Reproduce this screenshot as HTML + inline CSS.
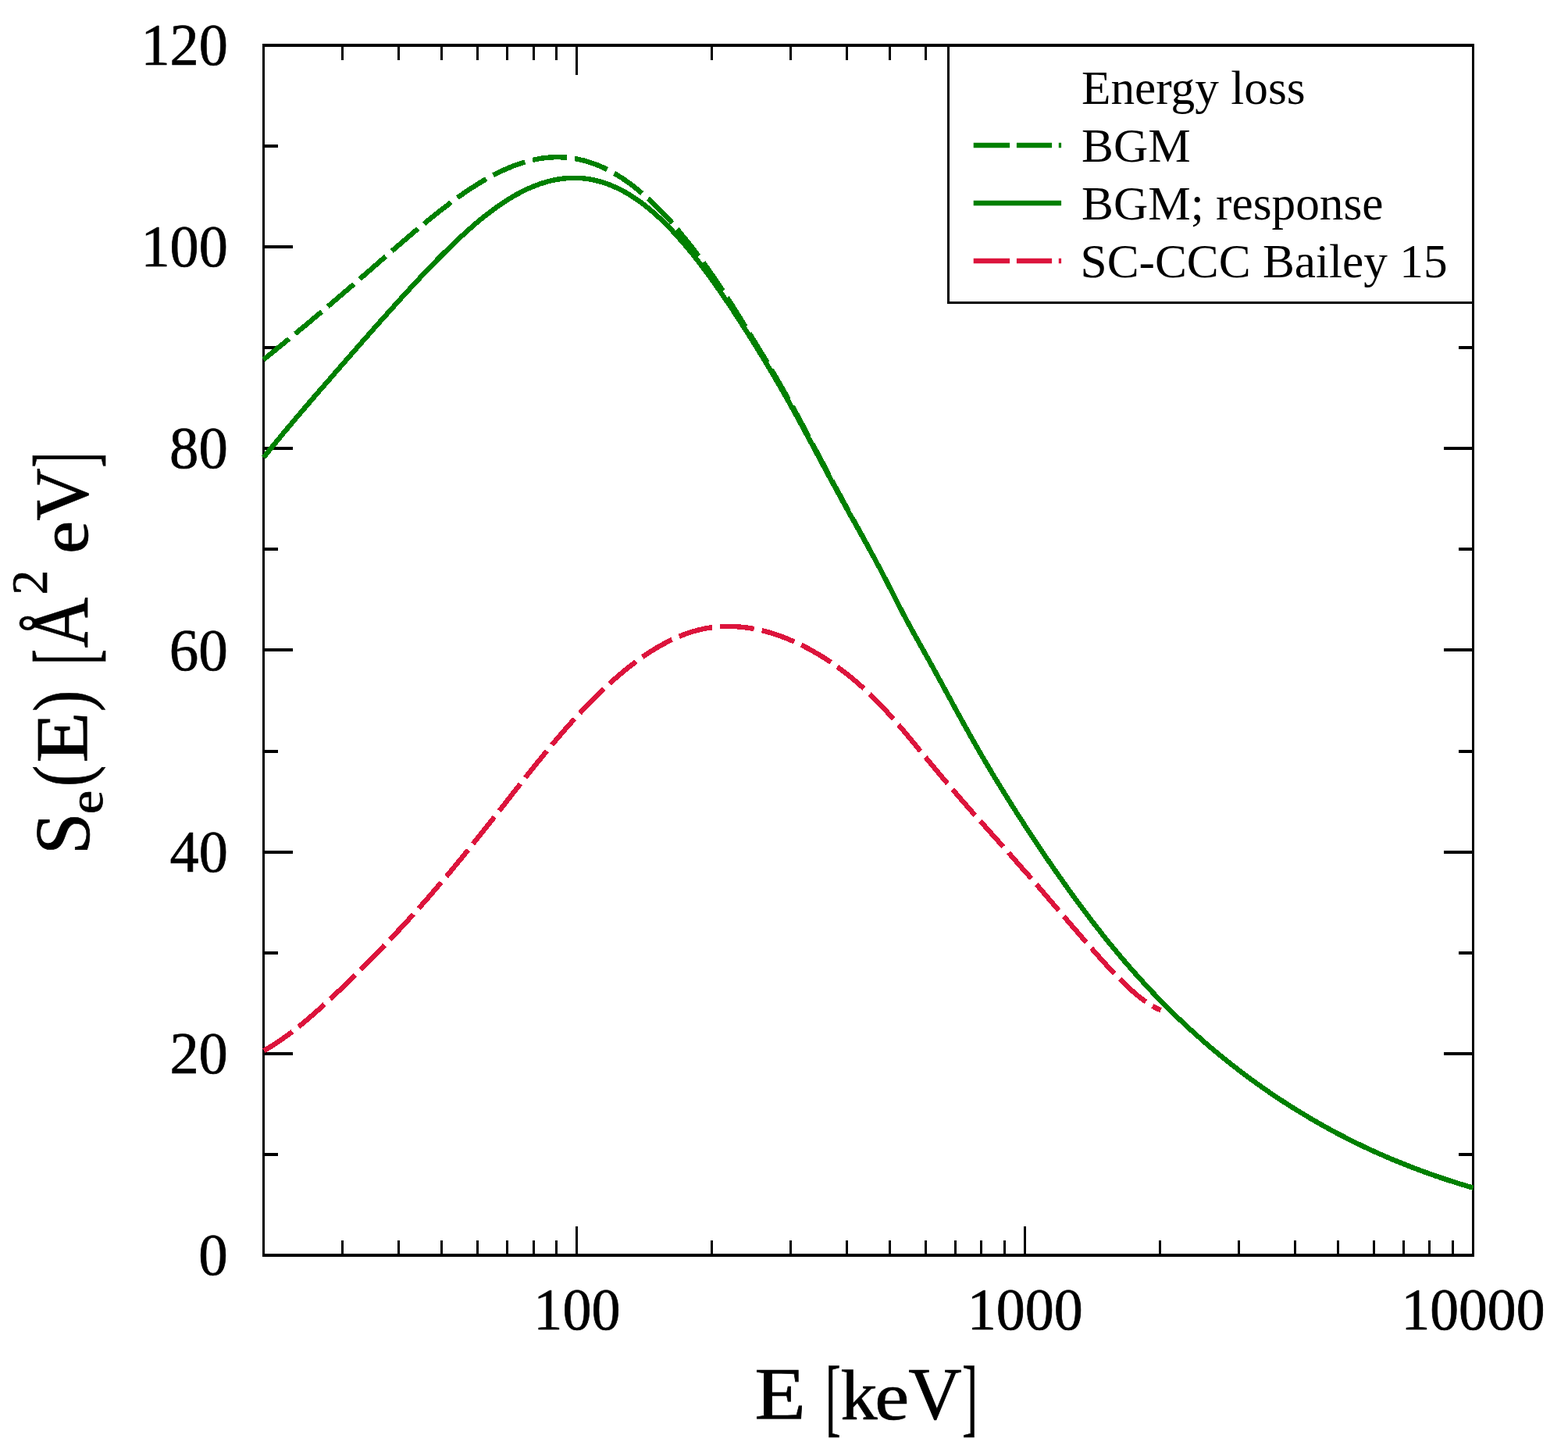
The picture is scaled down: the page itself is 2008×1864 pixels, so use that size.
<!DOCTYPE html>
<html><head><meta charset="utf-8"><title>Energy loss</title>
<style>
html,body{margin:0;padding:0;background:#fff;}
body{width:2008px;height:1864px;overflow:hidden;}
svg{display:block;}
text{font-family:"Liberation Serif","DejaVu Serif",serif;fill:#000;}
</style></head><body>
<svg width="2008" height="1864" viewBox="0 0 2008 1864">
<rect width="2008" height="1864" fill="#fff"/>
<g id="frame" fill="#000" shape-rendering="crispEdges">
<rect x="437.00" y="1588.00" width="3.00" height="19.00"/>
<rect x="437.00" y="58.00" width="3.00" height="19.00"/>
<rect x="509.00" y="1588.00" width="3.00" height="19.00"/>
<rect x="509.00" y="58.00" width="3.00" height="19.00"/>
<rect x="564.00" y="1588.00" width="3.00" height="19.00"/>
<rect x="564.00" y="58.00" width="3.00" height="19.00"/>
<rect x="610.00" y="1588.00" width="3.00" height="19.00"/>
<rect x="610.00" y="58.00" width="3.00" height="19.00"/>
<rect x="648.00" y="1588.00" width="3.00" height="19.00"/>
<rect x="648.00" y="58.00" width="3.00" height="19.00"/>
<rect x="682.00" y="1588.00" width="3.00" height="19.00"/>
<rect x="682.00" y="58.00" width="3.00" height="19.00"/>
<rect x="711.00" y="1588.00" width="3.00" height="19.00"/>
<rect x="711.00" y="58.00" width="3.00" height="19.00"/>
<rect x="737.00" y="1569.50" width="3.00" height="37.50"/>
<rect x="737.00" y="58.00" width="3.00" height="37.50"/>
<rect x="910.00" y="1588.00" width="3.00" height="19.00"/>
<rect x="910.00" y="58.00" width="3.00" height="19.00"/>
<rect x="1011.00" y="1588.00" width="3.00" height="19.00"/>
<rect x="1011.00" y="58.00" width="3.00" height="19.00"/>
<rect x="1083.00" y="1588.00" width="3.00" height="19.00"/>
<rect x="1083.00" y="58.00" width="3.00" height="19.00"/>
<rect x="1138.00" y="1588.00" width="3.00" height="19.00"/>
<rect x="1138.00" y="58.00" width="3.00" height="19.00"/>
<rect x="1184.00" y="1588.00" width="3.00" height="19.00"/>
<rect x="1184.00" y="58.00" width="3.00" height="19.00"/>
<rect x="1222.00" y="1588.00" width="3.00" height="19.00"/>
<rect x="1222.00" y="58.00" width="3.00" height="19.00"/>
<rect x="1255.00" y="1588.00" width="3.00" height="19.00"/>
<rect x="1255.00" y="58.00" width="3.00" height="19.00"/>
<rect x="1285.00" y="1588.00" width="3.00" height="19.00"/>
<rect x="1285.00" y="58.00" width="3.00" height="19.00"/>
<rect x="1311.00" y="1569.50" width="3.00" height="37.50"/>
<rect x="1311.00" y="58.00" width="3.00" height="37.50"/>
<rect x="1484.00" y="1588.00" width="3.00" height="19.00"/>
<rect x="1484.00" y="58.00" width="3.00" height="19.00"/>
<rect x="1585.00" y="1588.00" width="3.00" height="19.00"/>
<rect x="1585.00" y="58.00" width="3.00" height="19.00"/>
<rect x="1657.00" y="1588.00" width="3.00" height="19.00"/>
<rect x="1657.00" y="58.00" width="3.00" height="19.00"/>
<rect x="1712.00" y="1588.00" width="3.00" height="19.00"/>
<rect x="1712.00" y="58.00" width="3.00" height="19.00"/>
<rect x="1758.00" y="1588.00" width="3.00" height="19.00"/>
<rect x="1758.00" y="58.00" width="3.00" height="19.00"/>
<rect x="1796.00" y="1588.00" width="3.00" height="19.00"/>
<rect x="1796.00" y="58.00" width="3.00" height="19.00"/>
<rect x="1829.00" y="1588.00" width="3.00" height="19.00"/>
<rect x="1829.00" y="58.00" width="3.00" height="19.00"/>
<rect x="1859.00" y="1588.00" width="3.00" height="19.00"/>
<rect x="1859.00" y="58.00" width="3.00" height="19.00"/>
<rect x="337.50" y="1476.00" width="18.50" height="4.00"/>
<rect x="1868.00" y="1476.00" width="18.50" height="4.00"/>
<rect x="337.50" y="1347.00" width="37.50" height="4.00"/>
<rect x="1849.00" y="1347.00" width="37.50" height="4.00"/>
<rect x="337.50" y="1218.00" width="18.50" height="4.00"/>
<rect x="1868.00" y="1218.00" width="18.50" height="4.00"/>
<rect x="337.50" y="1089.00" width="37.50" height="4.00"/>
<rect x="1849.00" y="1089.00" width="37.50" height="4.00"/>
<rect x="337.50" y="960.00" width="18.50" height="4.00"/>
<rect x="1868.00" y="960.00" width="18.50" height="4.00"/>
<rect x="337.50" y="830.00" width="37.50" height="4.00"/>
<rect x="1849.00" y="830.00" width="37.50" height="4.00"/>
<rect x="337.50" y="701.00" width="18.50" height="4.00"/>
<rect x="1868.00" y="701.00" width="18.50" height="4.00"/>
<rect x="337.50" y="572.00" width="37.50" height="4.00"/>
<rect x="1849.00" y="572.00" width="37.50" height="4.00"/>
<rect x="337.50" y="443.00" width="18.50" height="4.00"/>
<rect x="1868.00" y="443.00" width="18.50" height="4.00"/>
<rect x="337.50" y="314.00" width="37.50" height="4.00"/>
<rect x="1849.00" y="314.00" width="37.50" height="4.00"/>
<rect x="337.50" y="185.00" width="18.50" height="4.00"/>
<rect x="1868.00" y="185.00" width="18.50" height="4.00"/>
<rect x="1214.5" y="58.0" width="672.0" height="329.5" fill="#fff"/>
<rect x="336.00" y="56.00" width="3.00" height="1553.00"/>
<rect x="1885.00" y="56.00" width="3.00" height="1553.00"/>
<rect x="336.00" y="56.00" width="1552.00" height="4.00"/>
<rect x="336.00" y="1605.00" width="1552.00" height="4.00"/>
<rect x="1213.00" y="58.00" width="3.00" height="331.00"/>
<rect x="1213.00" y="386.00" width="673.50" height="3.00"/>
</g>
<g id="curves" stroke-linecap="butt" stroke-linejoin="round" shape-rendering="crispEdges">
<path id="cdash" d="M337.5 460.5 L339.5 458.8 L341.5 457.2 L343.5 455.6 L345.5 454.0 L347.5 452.3 L349.5 450.7 L351.5 449.1 L353.5 447.4 L355.5 445.8 L357.5 444.2 L359.5 442.6 L361.5 440.9 L363.5 439.3 L365.5 437.6 L367.5 436.0 L369.5 434.4 L371.5 432.7 L373.5 431.1 L375.5 429.4 L377.5 427.8 L379.5 426.1 L381.5 424.5 L383.5 422.8 L385.5 421.2 L387.5 419.5 L389.5 417.9 L391.5 416.2 L393.5 414.5 L395.5 412.9 L397.5 411.2 L399.5 409.5 L401.5 407.8 L403.5 406.2 L405.5 404.5 L407.5 402.8 L409.5 401.1 L411.5 399.4 L413.5 397.7 L415.5 396.0 L417.5 394.4 L419.5 392.7 L421.5 391.0 L423.5 389.3 L425.5 387.6 L427.5 385.8 L429.5 384.1 L431.5 382.4 L433.5 380.7 L435.5 379.0 L437.5 377.3 L439.5 375.6 L441.5 373.8 L443.5 372.1 L445.5 370.4 L447.5 368.7 L449.5 366.9 L451.5 365.2 L453.5 363.5 L455.5 361.7 L457.5 360.0 L459.5 358.3 L461.5 356.5 L463.5 354.8 L465.5 353.0 L467.5 351.3 L469.5 349.6 L471.5 347.8 L473.5 346.1 L475.5 344.3 L477.5 342.6 L479.5 340.9 L481.5 339.1 L483.5 337.4 L485.5 335.6 L487.5 333.9 L489.5 332.1 L491.5 330.4 L493.5 328.7 L495.5 326.9 L497.5 325.2 L499.5 323.5 L501.5 321.7 L503.5 320.0 L505.5 318.3 L507.5 316.5 L509.5 314.8 L511.5 313.1 L513.5 311.4 L515.5 309.6 L517.5 307.9 L519.5 306.2 L521.5 304.5 L523.5 302.8 L525.5 301.1 L527.5 299.4 L529.5 297.7 L531.5 296.0 L533.5 294.4 L535.5 292.7 L537.5 291.0 L539.5 289.4 L541.5 287.7 L543.5 286.1 L545.5 284.4 L547.5 282.8 L549.5 281.1 L551.5 279.5 L553.5 277.9 L555.5 276.3 L557.5 274.7 L559.5 273.1 L561.5 271.5 L563.5 270.0 L565.5 268.4 L567.5 266.8 L569.5 265.3 L571.5 263.8 L573.5 262.3 L575.5 260.7 L577.5 259.3 L579.5 257.8 L581.5 256.3 L583.5 254.8 L585.5 253.4 L587.5 251.9 L589.5 250.5 L591.5 249.1 L593.5 247.7 L595.5 246.3 L597.5 245.0 L599.5 243.6 L601.5 242.3 L603.5 241.0 L605.5 239.7 L607.5 238.4 L609.5 237.1 L611.5 235.9 L613.5 234.6 L615.5 233.4 L617.5 232.2 L619.5 231.0 L621.5 229.9 L623.5 228.7 L625.5 227.6 L627.5 226.5 L629.5 225.4 L631.5 224.3 L633.5 223.3 L635.5 222.3 L637.5 221.3 L639.5 220.3 L641.5 219.3 L643.5 218.4 L645.5 217.5 L647.5 216.6 L649.5 215.7 L651.5 214.9 L653.5 214.0 L655.5 213.2 L657.5 212.4 L659.5 211.7 L661.5 211.0 L663.5 210.2 L665.5 209.6 L667.5 208.9 L669.5 208.3 L671.5 207.7 L673.5 207.1 L675.5 206.5 L677.5 206.0 L679.5 205.5 L681.5 205.0 L683.5 204.6 L685.5 204.2 L687.5 203.8 L689.5 203.4 L691.5 203.0 L693.5 202.7 L695.5 202.5 L697.5 202.2 L699.5 202.0 L701.5 201.8 L703.5 201.6 L705.5 201.5 L707.5 201.4 L709.5 201.3 L711.5 201.2 L713.5 201.2 L715.5 201.2 L717.5 201.3 L719.5 201.3 L721.5 201.4 L723.5 201.6 L725.5 201.7 L727.5 201.9 L729.5 202.1 L731.5 202.4 L733.5 202.7 L735.5 203.0 L737.5 203.3 L739.5 203.7 L741.5 204.1 L743.5 204.6 L745.5 205.0 L747.5 205.5 L749.5 206.1 L751.5 206.7 L753.5 207.3 L755.5 207.9 L757.5 208.6 L759.5 209.2 L761.5 210.0 L763.5 210.7 L765.5 211.5 L767.5 212.4 L769.5 213.2 L771.5 214.1 L773.5 215.0 L775.5 216.0 L777.5 217.0 L779.5 218.0 L781.5 219.1 L783.5 220.1 L785.5 221.3 L787.5 222.4 L789.5 223.6 L791.5 224.8 L793.5 226.1 L795.5 227.3 L797.5 228.6 L799.5 230.0 L801.5 231.4 L803.5 232.8 L805.5 234.2 L807.5 235.7 L809.5 237.2 L811.5 238.7 L813.5 240.3 L815.5 241.9 L817.5 243.5 L819.5 245.2 L821.5 246.9 L823.5 248.6 L825.5 250.3 L827.5 252.1 L829.5 254.0 L831.5 255.8 L833.5 257.7 L835.5 259.6 L837.5 261.5 L839.5 263.5 L841.5 265.5 L843.5 267.5 L845.5 269.6 L847.5 271.7 L849.5 273.8 L855.1 279.0 L857.0 281.1 L858.9 283.3 L860.8 285.5 L862.7 287.7 L864.6 290.0 L866.5 292.3 L868.4 294.6 L870.3 296.9 L872.2 299.3 L874.1 301.7 L876.1 304.0 L878.0 306.4 L880.0 308.8 L881.9 311.3 L883.9 313.7 L885.8 316.2 L887.8 318.7 L889.7 321.3 L891.7 323.8 L893.6 326.4 L895.6 329.0 L897.5 331.7 L899.5 334.4 L901.4 337.0 L903.4 339.8 L905.3 342.5 L907.2 345.2 L909.2 348.0 L911.1 350.8 L913.1 353.6 L915.0 356.5 L917.0 359.3 L918.9 362.2 L920.8 365.1 L922.8 368.0 L924.7 371.0 L926.7 373.9 L928.6 376.9 L930.5 379.9 L932.5 382.9 L934.4 385.9 L936.4 388.9 L938.3 392.0 L940.2 395.0 L942.2 398.1 L944.1 401.2 L946.0 404.3 L948.0 407.4 L949.9 410.6 L951.8 413.7 L953.8 416.9 L955.7 420.0 L957.7 423.2 L959.6 426.4 L961.5 429.6 L963.5 432.8 L965.5 436.0 L967.5 439.2 L969.5 442.5 L971.4 445.7 L973.4 449.0 L975.4 452.2 L977.4 455.5 L979.4 458.8 L981.4 462.1 L983.4 465.5 L985.3 468.8 L987.3 472.1 L989.3 475.5 L991.3 478.9 L993.3 482.3 L995.3 485.7 L997.2 489.1 L999.2 492.6 L1001.2 496.0 L1003.2 499.5 L1005.2 503.0 L1007.2 506.5 L1009.1 510.1 L1011.1 513.6 L1013.1 517.2 L1015.1 520.8 L1017.1 524.4 L1019.1 528.0 L1021.1 531.7 L1023.0 535.3 L1025.0 539.0 L1027.0 542.7 L1029.0 546.4 L1031.0 550.1 L1033.0 553.8 L1034.9 557.6 L1036.9 561.3 L1038.9 565.0 L1040.9 568.8 L1042.9 572.6 L1044.8 576.3 L1046.8 580.1 L1048.8 583.8 L1050.8 587.6 L1052.8 591.3 L1054.8 595.1 L1056.7 598.8 L1058.7 602.5 L1060.7 606.2 L1062.7 609.9 L1064.7 613.7 L1066.7 617.3 L1068.6 621.0 L1070.6 624.7 L1072.6 628.4 L1074.6 632.0 L1076.6 635.7 L1078.5 639.3 L1080.5 642.9 L1082.5 646.6 L1084.5 650.2 L1086.5 653.8 L1088.5 657.4 L1090.4 661.0 L1092.4 664.6 L1094.4 668.2 L1096.4 671.8 L1098.3 675.3 L1100.3 678.9 L1102.3 682.5 L1104.3 686.1 L1106.2 689.7 L1108.2 693.3 L1110.2 696.9 L1112.2 700.5 L1114.1 704.2 L1116.1 707.8 L1118.1 711.5 L1120.1 715.1 L1122.0 718.9 L1124.0 722.6 L1126.0 726.3 L1128.0 730.1 L1130.0 733.9 L1132.0 737.7 L1134.0 741.6 L1136.0 745.5 L1138.0 749.4 L1140.0 753.3 L1142.0 757.2 L1144.0 761.1 L1146.0 765.1 L1148.0 769.0 L1150.0 772.9 L1152.0 776.7 L1154.0 780.6 L1156.0 784.4 L1158.0 788.2 L1160.0 792.0 L1162.0 795.7 L1164.0 799.4 L1166.0 803.1 L1168.0 806.7 L1170.0 810.3 L1172.0 813.9 L1174.0 817.5 L1176.0 821.0 L1178.0 824.6 L1180.0 828.2 L1182.0 831.7 L1184.0 835.3 L1186.0 838.9 L1188.0 842.5 L1190.0 846.1 L1192.0 849.7 L1194.0 853.3 L1196.0 856.9 L1198.0 860.6 L1200.0 864.2 L1202.0 867.9 L1204.0 871.5 L1206.0 875.2 L1208.0 878.9 L1210.0 882.6 L1212.0 886.2 L1214.0 889.9 L1216.0 893.6 L1218.0 897.3 L1220.0 900.9 L1222.0 904.6 L1224.0 908.2 L1226.0 911.9 L1228.0 915.5 L1230.0 919.2 L1232.0 922.8 L1234.0 926.4 L1236.0 930.0 L1238.0 933.6 L1240.0 937.1 L1242.0 940.7 L1244.0 944.2 L1246.0 947.8 L1248.0 951.3 L1250.0 954.8 L1252.0 958.3 L1254.0 961.7 L1256.0 965.2 L1258.0 968.6 L1260.0 972.0 L1262.0 975.4 L1264.0 978.8 L1266.0 982.2 L1268.0 985.5 L1270.0 988.9 L1272.0 992.2 L1274.0 995.5 L1276.0 998.8 L1278.0 1002.1 L1280.0 1005.4 L1282.0 1008.6 L1284.0 1011.9 L1286.0 1015.1 L1288.0 1018.3 L1290.0 1021.5 L1292.0 1024.7 L1294.0 1027.9 L1296.0 1031.1 L1298.0 1034.2 L1300.0 1037.4 L1302.0 1040.5 L1304.0 1043.6 L1306.0 1046.7 L1308.0 1049.8 L1310.0 1052.9 L1312.0 1056.0 L1314.0 1059.1 L1316.0 1062.1 L1318.0 1065.2 L1320.0 1068.2 L1322.0 1071.3 L1324.0 1074.3 L1326.0 1077.3 L1328.0 1080.3 L1330.0 1083.3 L1332.0 1086.3 L1334.0 1089.2 L1336.0 1092.2 L1338.0 1095.1 L1340.0 1098.1 L1342.0 1101.0 L1344.0 1103.9 L1346.0 1106.8 L1348.0 1109.7 L1350.0 1112.6 L1352.0 1115.5 L1354.0 1118.4 L1356.0 1121.2 L1358.0 1124.1 L1360.0 1126.9 L1362.0 1129.7 L1364.0 1132.5 L1366.0 1135.4 L1368.0 1138.1 L1370.0 1140.9 L1372.0 1143.7 L1374.0 1146.5 L1376.0 1149.2 L1378.0 1151.9 L1380.0 1154.7 L1382.0 1157.4 L1384.0 1160.1 L1386.0 1162.8 L1388.0 1165.4 L1390.0 1168.1 L1392.0 1170.7 L1394.0 1173.4 L1396.0 1176.0 L1398.0 1178.6 L1400.0 1181.2 L1402.0 1183.8 L1404.0 1186.4 L1406.0 1188.9 L1408.0 1191.5 L1410.0 1194.0 L1412.0 1196.5 L1414.0 1199.1 L1416.0 1201.6 L1418.0 1204.0 L1420.0 1206.5 L1422.0 1209.0 L1424.0 1211.4 L1426.0 1213.8 L1428.0 1216.3 L1430.0 1218.7 L1432.0 1221.1 L1434.0 1223.4 L1436.0 1225.8 L1438.0 1228.2 L1440.0 1230.5 L1442.0 1232.8 L1444.0 1235.1 L1446.0 1237.4 L1448.0 1239.7 L1450.0 1242.0 L1452.0 1244.3 L1454.0 1246.5 L1456.0 1248.7 L1458.0 1251.0 L1460.0 1253.2 L1462.0 1255.4 L1464.0 1257.6 L1466.0 1259.7 L1468.0 1261.9 L1470.0 1264.1 L1472.0 1266.2 L1474.0 1268.3 L1476.0 1270.4 L1478.0 1272.5 L1480.0 1274.6 L1482.0 1276.7 L1484.0 1278.8 L1486.0 1280.8 L1488.0 1282.9 L1490.0 1284.9 L1492.0 1286.9 L1494.0 1288.9 L1496.0 1290.9 L1498.0 1292.9 L1500.0 1294.9 L1502.0 1296.8 L1504.0 1298.8 L1506.0 1300.7 L1508.0 1302.7 L1510.0 1304.6 L1512.0 1306.5 L1514.0 1308.4 L1516.0 1310.2 L1518.0 1312.1 L1520.0 1314.0 L1522.0 1315.8 L1524.0 1317.7 L1526.0 1319.5 L1528.0 1321.3 L1530.0 1323.1 L1532.0 1324.9 L1534.0 1326.7 L1536.0 1328.5 L1538.0 1330.2 L1540.0 1332.0 L1542.0 1333.7 L1544.0 1335.5 L1546.0 1337.2 L1548.0 1338.9 L1550.0 1340.6 L1552.0 1342.3 L1554.0 1344.0 L1556.0 1345.7 L1558.0 1347.3 L1560.0 1349.0 L1562.0 1350.6 L1564.0 1352.3 L1566.0 1353.9 L1568.0 1355.5 L1570.0 1357.1 L1572.0 1358.7 L1574.0 1360.3 L1576.0 1361.9 L1578.0 1363.5 L1580.0 1365.0 L1582.0 1366.6 L1584.0 1368.1 L1586.0 1369.7 L1588.0 1371.2 L1590.0 1372.7 L1592.0 1374.2 L1594.0 1375.7 L1596.0 1377.2 L1598.0 1378.7 L1600.0 1380.2 L1602.0 1381.7 L1604.0 1383.1 L1606.0 1384.6 L1608.0 1386.0 L1610.0 1387.4 L1612.0 1388.9 L1614.0 1390.3 L1616.0 1391.7 L1618.0 1393.1 L1620.0 1394.5 L1622.0 1395.9 L1624.0 1397.3 L1626.0 1398.6 L1628.0 1400.0 L1630.0 1401.4 L1632.0 1402.7 L1634.0 1404.1 L1636.0 1405.4 L1638.0 1406.7 L1640.0 1408.0 L1642.0 1409.3 L1644.0 1410.6 L1646.0 1411.9 L1648.0 1413.2 L1650.0 1414.5 L1652.0 1415.8 L1654.0 1417.1 L1656.0 1418.3 L1658.0 1419.6 L1660.0 1420.8 L1662.0 1422.0 L1664.0 1423.3 L1666.0 1424.5 L1668.0 1425.7 L1670.0 1426.9 L1672.0 1428.1 L1674.0 1429.3 L1676.0 1430.5 L1678.0 1431.7 L1680.0 1432.8 L1682.0 1434.0 L1684.0 1435.2 L1686.0 1436.3 L1688.0 1437.5 L1690.0 1438.6 L1692.0 1439.7 L1694.0 1440.9 L1696.0 1442.0 L1698.0 1443.1 L1700.0 1444.2 L1702.0 1445.3 L1704.0 1446.4 L1706.0 1447.4 L1708.0 1448.5 L1710.0 1449.6 L1712.0 1450.7 L1714.0 1451.7 L1716.0 1452.8 L1718.0 1453.8 L1720.0 1454.8 L1722.0 1455.9 L1724.0 1456.9 L1726.0 1457.9 L1728.0 1458.9 L1730.0 1459.9 L1732.0 1460.9 L1734.0 1461.9 L1736.0 1462.9 L1738.0 1463.9 L1740.0 1464.8 L1742.0 1465.8 L1744.0 1466.8 L1746.0 1467.7 L1748.0 1468.7 L1750.0 1469.6 L1752.0 1470.5 L1754.0 1471.5 L1756.0 1472.4 L1758.0 1473.3 L1760.0 1474.2 L1762.0 1475.1 L1764.0 1476.0 L1766.0 1476.9 L1768.0 1477.8 L1770.0 1478.7 L1772.0 1479.5 L1774.0 1480.4 L1776.0 1481.3 L1778.0 1482.1 L1780.0 1483.0 L1782.0 1483.8 L1784.0 1484.7 L1786.0 1485.5 L1788.0 1486.3 L1790.0 1487.1 L1792.0 1488.0 L1794.0 1488.8 L1796.0 1489.6 L1798.0 1490.4 L1800.0 1491.2 L1802.0 1492.0 L1804.0 1492.7 L1806.0 1493.5 L1808.0 1494.3 L1810.0 1495.1 L1812.0 1495.8 L1814.0 1496.6 L1816.0 1497.3 L1818.0 1498.1 L1820.0 1498.8 L1822.0 1499.6 L1824.0 1500.3 L1826.0 1501.0 L1828.0 1501.7 L1830.0 1502.4 L1832.0 1503.2 L1834.0 1503.9 L1836.0 1504.6 L1838.0 1505.3 L1840.0 1506.0 L1842.0 1506.6 L1844.0 1507.3 L1846.0 1508.0 L1848.0 1508.7 L1850.0 1509.3 L1852.0 1510.0 L1854.0 1510.7 L1856.0 1511.3 L1858.0 1512.0 L1860.0 1512.6 L1862.0 1513.2 L1864.0 1513.9 L1866.0 1514.5 L1868.0 1515.1 L1870.0 1515.7 L1872.0 1516.4 L1874.0 1517.0 L1876.0 1517.6 L1878.0 1518.2 L1880.0 1518.8 L1882.0 1519.4 L1884.0 1520.0 L1886.0 1520.6" fill="none" stroke="#008000" stroke-width="6.4" stroke-dasharray="44.1 10.12" stroke-dashoffset="1.75"/>
<path id="csolid" d="M337.5 585.6 L339.5 583.2 L341.5 580.7 L343.5 578.2 L345.5 575.8 L347.5 573.3 L349.5 570.9 L351.5 568.4 L353.5 566.0 L355.5 563.6 L357.5 561.2 L359.5 558.7 L361.5 556.3 L363.5 553.9 L365.5 551.5 L367.5 549.1 L369.5 546.8 L371.5 544.4 L373.5 542.0 L375.5 539.6 L377.5 537.3 L379.5 534.9 L381.5 532.5 L383.5 530.2 L385.5 527.8 L387.5 525.5 L389.5 523.1 L391.5 520.8 L393.5 518.5 L395.5 516.1 L397.5 513.8 L399.5 511.5 L401.5 509.1 L403.5 506.8 L405.5 504.5 L407.5 502.2 L409.5 499.9 L411.5 497.5 L413.5 495.2 L415.6 492.9 L417.6 490.6 L419.6 488.3 L421.6 486.0 L423.6 483.7 L425.6 481.4 L427.6 479.1 L429.6 476.8 L431.6 474.5 L433.6 472.2 L435.6 469.9 L437.6 467.6 L439.6 465.3 L441.6 463.0 L443.6 460.7 L445.6 458.4 L447.6 456.2 L449.6 453.9 L451.6 451.6 L453.6 449.3 L455.6 447.0 L457.6 444.8 L459.6 442.5 L461.6 440.2 L463.6 437.9 L465.6 435.7 L467.6 433.4 L469.6 431.1 L471.6 428.9 L473.6 426.6 L475.6 424.3 L477.6 422.1 L479.6 419.8 L481.6 417.6 L483.6 415.3 L485.6 413.1 L487.6 410.8 L489.6 408.6 L491.6 406.3 L493.6 404.1 L495.6 401.9 L497.6 399.6 L499.6 397.4 L501.6 395.2 L503.6 393.0 L505.6 390.7 L507.6 388.5 L509.6 386.3 L511.6 384.1 L513.6 381.9 L515.6 379.7 L517.6 377.5 L519.6 375.3 L521.6 373.2 L523.6 371.0 L525.6 368.8 L527.6 366.6 L529.6 364.5 L531.6 362.3 L533.6 360.2 L535.6 358.0 L537.6 355.9 L539.6 353.8 L541.6 351.7 L543.6 349.5 L545.6 347.4 L547.6 345.3 L549.6 343.3 L551.6 341.2 L553.6 339.1 L555.6 337.0 L557.6 335.0 L559.6 332.9 L561.6 330.9 L563.6 328.9 L565.6 326.9 L567.6 324.9 L569.6 322.9 L571.7 320.9 L573.7 318.9 L575.7 317.0 L577.7 315.0 L579.7 313.1 L581.7 311.2 L583.7 309.3 L585.7 307.4 L587.7 305.5 L589.7 303.6 L591.7 301.8 L593.7 299.9 L595.7 298.1 L597.7 296.3 L599.7 294.5 L601.7 292.7 L603.7 291.0 L605.7 289.3 L607.7 287.5 L609.7 285.8 L611.7 284.1 L613.7 282.5 L615.7 280.8 L617.7 279.2 L619.7 277.6 L621.7 276.0 L623.7 274.4 L625.7 272.9 L627.7 271.4 L629.7 269.9 L631.7 268.4 L633.7 266.9 L635.7 265.5 L637.7 264.1 L639.7 262.7 L641.7 261.3 L643.7 260.0 L645.7 258.6 L647.7 257.3 L649.7 256.1 L651.7 254.8 L653.7 253.6 L655.7 252.4 L657.7 251.2 L659.7 250.1 L661.7 248.9 L663.7 247.9 L665.7 246.8 L667.7 245.7 L669.7 244.7 L671.7 243.7 L673.7 242.8 L675.7 241.8 L677.7 240.9 L679.7 240.1 L681.7 239.2 L683.7 238.4 L685.7 237.6 L687.7 236.9 L689.7 236.1 L691.7 235.4 L693.7 234.8 L695.7 234.1 L697.7 233.5 L699.7 232.9 L701.7 232.4 L703.7 231.8 L705.7 231.4 L707.7 230.9 L709.7 230.5 L711.7 230.1 L713.7 229.7 L715.7 229.4 L717.7 229.1 L719.7 228.8 L721.7 228.6 L723.7 228.4 L725.8 228.2 L727.8 228.1 L729.8 228.0 L731.8 227.9 L733.8 227.9 L735.8 227.8 L737.8 227.9 L739.8 227.9 L741.8 228.0 L743.8 228.2 L745.8 228.3 L747.8 228.5 L749.8 228.7 L751.8 229.0 L753.8 229.3 L755.8 229.6 L757.8 230.0 L759.8 230.4 L761.8 230.8 L763.8 231.3 L765.8 231.8 L767.8 232.3 L769.8 232.9 L771.8 233.5 L773.8 234.1 L775.8 234.8 L777.8 235.5 L779.8 236.3 L781.8 237.0 L783.8 237.9 L785.8 238.7 L787.8 239.6 L789.8 240.5 L791.8 241.5 L793.8 242.4 L795.8 243.5 L797.8 244.5 L799.8 245.6 L801.8 246.7 L803.8 247.9 L805.8 249.1 L807.8 250.3 L809.8 251.6 L811.8 252.9 L813.8 254.2 L815.8 255.6 L817.8 257.0 L819.8 258.4 L821.8 259.9 L823.8 261.4 L825.8 263.0 L827.8 264.5 L829.8 266.1 L831.8 267.8 L833.8 269.5 L835.8 271.2 L837.8 272.9 L839.8 274.7 L841.8 276.5 L843.8 278.3 L845.8 280.2 L847.8 282.1 L849.8 284.0 L851.8 286.0 L853.8 288.0 L855.8 290.0 L857.8 292.1 L859.8 294.2 L861.8 296.3 L863.8 298.5 L865.8 300.7 L867.8 302.9 L869.8 305.1 L871.8 307.4 L873.8 309.7 L875.8 312.0 L877.8 314.4 L879.9 316.8 L881.9 319.2 L883.9 321.6 L885.9 324.1 L887.9 326.6 L889.9 329.1 L891.9 331.7 L893.9 334.2 L895.9 336.8 L897.9 339.5 L899.9 342.1 L901.9 344.8 L903.9 347.5 L905.9 350.2 L907.9 352.9 L909.9 355.7 L911.9 358.5 L913.9 361.3 L915.9 364.1 L917.9 366.9 L919.9 369.8 L921.9 372.7 L923.9 375.6 L925.9 378.5 L927.9 381.4 L929.9 384.4 L931.9 387.3 L933.9 390.3 L935.9 393.3 L937.9 396.3 L939.9 399.4 L941.9 402.4 L943.9 405.5 L945.9 408.6 L947.9 411.6 L949.9 414.7 L951.9 417.9 L953.9 421.0 L955.9 424.1 L957.9 427.3 L959.9 430.4 L961.9 433.6 L963.9 436.8 L965.9 440.0 L967.9 443.2 L969.9 446.5 L971.9 449.7 L973.9 453.0 L975.9 456.2 L977.9 459.5 L979.9 462.8 L981.9 466.1 L983.9 469.5 L985.9 472.8 L987.9 476.2 L989.9 479.5 L991.9 482.9 L993.9 486.3 L995.9 489.7 L997.9 493.2 L999.9 496.6 L1001.9 500.1 L1003.9 503.6 L1005.9 507.1 L1007.9 510.6 L1009.9 514.1 L1011.9 517.7 L1013.9 521.3 L1015.9 524.9 L1017.9 528.5 L1019.9 532.1 L1021.9 535.8 L1023.9 539.5 L1025.9 543.1 L1027.9 546.8 L1029.9 550.5 L1031.9 554.2 L1033.9 558.0 L1036.0 561.7 L1038.0 565.4 L1040.0 569.2 L1042.0 572.9 L1044.0 576.7 L1046.0 580.4 L1048.0 584.2 L1050.0 587.9 L1052.0 591.7 L1054.0 595.4 L1056.0 599.1 L1058.0 602.8 L1060.0 606.6 L1062.0 610.3 L1064.0 614.0 L1066.0 617.6 L1068.0 621.3 L1070.0 625.0 L1072.0 628.7 L1074.0 632.3 L1076.0 635.9 L1078.0 639.6 L1080.0 643.2 L1082.0 646.8 L1084.0 650.4 L1086.0 654.0 L1088.0 657.6 L1090.0 661.2 L1092.0 664.8 L1094.0 668.4 L1096.0 671.9 L1098.0 675.5 L1100.0 679.1 L1102.0 682.7 L1104.0 686.2 L1106.0 689.8 L1108.0 693.4 L1110.0 697.0 L1112.0 700.6 L1114.0 704.2 L1116.0 707.9 L1118.0 711.5 L1120.0 715.2 L1122.0 718.9 L1124.0 722.6 L1126.0 726.3 L1128.0 730.1 L1130.0 733.9 L1132.0 737.7 L1134.0 741.6 L1136.0 745.5 L1138.0 749.4 L1140.0 753.3 L1142.0 757.2 L1144.0 761.2 L1146.0 765.1 L1148.0 769.0 L1150.0 772.9 L1152.0 776.8 L1154.0 780.6 L1156.0 784.5 L1158.0 788.3 L1160.0 792.0 L1162.0 795.8 L1164.0 799.5 L1166.0 803.1 L1168.0 806.8 L1170.0 810.4 L1172.0 814.0 L1174.0 817.5 L1176.0 821.1 L1178.0 824.7 L1180.0 828.2 L1182.0 831.8 L1184.0 835.4 L1186.0 839.0 L1188.0 842.5 L1190.1 846.1 L1192.1 849.8 L1194.1 853.4 L1196.1 857.0 L1198.1 860.7 L1200.1 864.3 L1202.1 868.0 L1204.1 871.6 L1206.1 875.3 L1208.1 879.0 L1210.1 882.7 L1212.1 886.3 L1214.1 890.0 L1216.1 893.7 L1218.1 897.4 L1220.1 901.1 L1222.1 904.7 L1224.1 908.4 L1226.1 912.0 L1228.1 915.7 L1230.1 919.3 L1232.1 922.9 L1234.1 926.5 L1236.1 930.1 L1238.1 933.7 L1240.1 937.3 L1242.1 940.8 L1244.1 944.4 L1246.1 947.9 L1248.1 951.4 L1250.1 954.9 L1252.1 958.4 L1254.1 961.9 L1256.1 965.3 L1258.1 968.8 L1260.1 972.2 L1262.1 975.6 L1264.1 979.0 L1266.1 982.4 L1268.1 985.7 L1270.1 989.1 L1272.1 992.4 L1274.1 995.7 L1276.1 999.0 L1278.1 1002.3 L1280.1 1005.5 L1282.1 1008.8 L1284.1 1012.1 L1286.1 1015.3 L1288.1 1018.5 L1290.1 1021.7 L1292.1 1024.9 L1294.1 1028.1 L1296.1 1031.3 L1298.1 1034.4 L1300.1 1037.6 L1302.1 1040.7 L1304.1 1043.8 L1306.1 1046.9 L1308.1 1050.0 L1310.1 1053.1 L1312.1 1056.2 L1314.1 1059.3 L1316.1 1062.3 L1318.1 1065.4 L1320.1 1068.4 L1322.1 1071.5 L1324.1 1074.5 L1326.1 1077.5 L1328.1 1080.5 L1330.1 1083.5 L1332.1 1086.5 L1334.1 1089.4 L1336.1 1092.4 L1338.1 1095.3 L1340.1 1098.3 L1342.1 1101.2 L1344.1 1104.1 L1346.2 1107.1 L1348.2 1110.0 L1350.2 1112.8 L1352.2 1115.7 L1354.2 1118.6 L1356.2 1121.4 L1358.2 1124.3 L1360.2 1127.1 L1362.2 1130.0 L1364.2 1132.8 L1366.2 1135.6 L1368.2 1138.4 L1370.2 1141.2 L1372.2 1143.9 L1374.2 1146.7 L1376.2 1149.4 L1378.2 1152.2 L1380.2 1154.9 L1382.2 1157.6 L1384.2 1160.3 L1386.2 1163.0 L1388.2 1165.7 L1390.2 1168.3 L1392.2 1171.0 L1394.2 1173.6 L1396.2 1176.2 L1398.2 1178.9 L1400.2 1181.5 L1402.2 1184.0 L1404.2 1186.6 L1406.2 1189.2 L1408.2 1191.7 L1410.2 1194.3 L1412.2 1196.8 L1414.2 1199.3 L1416.2 1201.8 L1418.2 1204.3 L1420.2 1206.8 L1422.2 1209.2 L1424.2 1211.7 L1426.2 1214.1 L1428.2 1216.5 L1430.2 1218.9 L1432.2 1221.3 L1434.2 1223.7 L1436.2 1226.0 L1438.2 1228.4 L1440.2 1230.7 L1442.2 1233.1 L1444.2 1235.4 L1446.2 1237.7 L1448.2 1240.0 L1450.2 1242.2 L1452.2 1244.5 L1454.2 1246.8 L1456.2 1249.0 L1458.2 1251.2 L1460.2 1253.4 L1462.2 1255.6 L1464.2 1257.8 L1466.2 1260.0 L1468.2 1262.2 L1470.2 1264.3 L1472.2 1266.4 L1474.2 1268.6 L1476.2 1270.7 L1478.2 1272.8 L1480.2 1274.9 L1482.2 1277.0 L1484.2 1279.0 L1486.2 1281.1 L1488.2 1283.1 L1490.2 1285.1 L1492.2 1287.2 L1494.2 1289.2 L1496.2 1291.2 L1498.2 1293.2 L1500.3 1295.1 L1502.3 1297.1 L1504.3 1299.0 L1506.3 1301.0 L1508.3 1302.9 L1510.3 1304.8 L1512.3 1306.7 L1514.3 1308.6 L1516.3 1310.5 L1518.3 1312.4 L1520.3 1314.2 L1522.3 1316.1 L1524.3 1317.9 L1526.3 1319.7 L1528.3 1321.6 L1530.3 1323.4 L1532.3 1325.2 L1534.3 1326.9 L1536.3 1328.7 L1538.3 1330.5 L1540.3 1332.2 L1542.3 1334.0 L1544.3 1335.7 L1546.3 1337.4 L1548.3 1339.1 L1550.3 1340.9 L1552.3 1342.5 L1554.3 1344.2 L1556.3 1345.9 L1558.3 1347.6 L1560.3 1349.2 L1562.3 1350.9 L1564.3 1352.5 L1566.3 1354.1 L1568.3 1355.7 L1570.3 1357.4 L1572.3 1359.0 L1574.3 1360.5 L1576.3 1362.1 L1578.3 1363.7 L1580.3 1365.3 L1582.3 1366.8 L1584.3 1368.4 L1586.3 1369.9 L1588.3 1371.4 L1590.3 1372.9 L1592.3 1374.5 L1594.3 1376.0 L1596.3 1377.5 L1598.3 1378.9 L1600.3 1380.4 L1602.3 1381.9 L1604.3 1383.3 L1606.3 1384.8 L1608.3 1386.2 L1610.3 1387.7 L1612.3 1389.1 L1614.3 1390.5 L1616.3 1391.9 L1618.3 1393.3 L1620.3 1394.7 L1622.3 1396.1 L1624.3 1397.5 L1626.3 1398.9 L1628.3 1400.2 L1630.3 1401.6 L1632.3 1402.9 L1634.3 1404.3 L1636.3 1405.6 L1638.3 1406.9 L1640.3 1408.3 L1642.3 1409.6 L1644.3 1410.9 L1646.3 1412.2 L1648.3 1413.5 L1650.3 1414.7 L1652.3 1416.0 L1654.4 1417.3 L1656.4 1418.5 L1658.4 1419.8 L1660.4 1421.0 L1662.4 1422.3 L1664.4 1423.5 L1666.4 1424.7 L1668.4 1425.9 L1670.4 1427.1 L1672.4 1428.3 L1674.4 1429.5 L1676.4 1430.7 L1678.4 1431.9 L1680.4 1433.1 L1682.4 1434.2 L1684.4 1435.4 L1686.4 1436.5 L1688.4 1437.7 L1690.4 1438.8 L1692.4 1439.9 L1694.4 1441.1 L1696.4 1442.2 L1698.4 1443.3 L1700.4 1444.4 L1702.4 1445.5 L1704.4 1446.6 L1706.4 1447.7 L1708.4 1448.7 L1710.4 1449.8 L1712.4 1450.9 L1714.4 1451.9 L1716.4 1453.0 L1718.4 1454.0 L1720.4 1455.0 L1722.4 1456.1 L1724.4 1457.1 L1726.4 1458.1 L1728.4 1459.1 L1730.4 1460.1 L1732.4 1461.1 L1734.4 1462.1 L1736.4 1463.1 L1738.4 1464.1 L1740.4 1465.0 L1742.4 1466.0 L1744.4 1466.9 L1746.4 1467.9 L1748.4 1468.8 L1750.4 1469.8 L1752.4 1470.7 L1754.4 1471.6 L1756.4 1472.6 L1758.4 1473.5 L1760.4 1474.4 L1762.4 1475.3 L1764.4 1476.2 L1766.4 1477.1 L1768.4 1478.0 L1770.4 1478.8 L1772.4 1479.7 L1774.4 1480.6 L1776.4 1481.4 L1778.4 1482.3 L1780.4 1483.2 L1782.4 1484.0 L1784.4 1484.8 L1786.4 1485.7 L1788.4 1486.5 L1790.4 1487.3 L1792.4 1488.1 L1794.4 1488.9 L1796.4 1489.7 L1798.4 1490.5 L1800.4 1491.3 L1802.4 1492.1 L1804.4 1492.9 L1806.4 1493.7 L1808.4 1494.5 L1810.5 1495.2 L1812.5 1496.0 L1814.5 1496.7 L1816.5 1497.5 L1818.5 1498.2 L1820.5 1499.0 L1822.5 1499.7 L1824.5 1500.5 L1826.5 1501.2 L1828.5 1501.9 L1830.5 1502.6 L1832.5 1503.3 L1834.5 1504.0 L1836.5 1504.7 L1838.5 1505.4 L1840.5 1506.1 L1842.5 1506.8 L1844.5 1507.5 L1846.5 1508.2 L1848.5 1508.8 L1850.5 1509.5 L1852.5 1510.2 L1854.5 1510.8 L1856.5 1511.5 L1858.5 1512.1 L1860.5 1512.8 L1862.5 1513.4 L1864.5 1514.0 L1866.5 1514.7 L1868.5 1515.3 L1870.5 1515.9 L1872.5 1516.5 L1874.5 1517.1 L1876.5 1517.7 L1878.5 1518.3 L1880.5 1518.9 L1882.5 1519.5 L1884.5 1520.1 L1886.5 1520.7" fill="none" stroke="#008000" stroke-width="6.4"/>
<path id="cred" d="M337.5 1345.2 L339.5 1344.1 L341.5 1343.0 L343.5 1341.8 L345.5 1340.6 L347.5 1339.4 L349.5 1338.2 L351.5 1336.9 L353.5 1335.6 L355.5 1334.3 L357.5 1332.9 L359.5 1331.6 L361.5 1330.2 L363.5 1328.7 L365.5 1327.3 L367.5 1325.9 L369.5 1324.4 L371.5 1322.9 L373.5 1321.4 L375.5 1319.8 L377.5 1318.3 L379.5 1316.7 L381.5 1315.1 L383.5 1313.5 L385.5 1311.9 L387.5 1310.2 L389.5 1308.5 L391.5 1306.9 L393.5 1305.2 L395.6 1303.5 L397.6 1301.8 L399.6 1300.0 L401.6 1298.3 L403.6 1296.5 L405.6 1294.8 L407.6 1293.0 L409.6 1291.2 L411.6 1289.4 L413.6 1287.6 L415.6 1285.8 L417.6 1283.9 L419.6 1282.1 L421.6 1280.2 L423.6 1278.4 L425.6 1276.5 L427.6 1274.6 L429.6 1272.7 L431.6 1270.8 L433.6 1268.9 L435.6 1267.0 L437.6 1265.1 L439.6 1263.2 L441.6 1261.2 L443.6 1259.3 L445.6 1257.4 L447.6 1255.4 L449.6 1253.4 L451.6 1251.5 L453.6 1249.5 L455.6 1247.5 L457.6 1245.5 L459.6 1243.6 L461.6 1241.6 L463.6 1239.6 L465.6 1237.5 L467.6 1235.5 L469.6 1233.5 L471.6 1231.5 L473.6 1229.5 L475.6 1227.4 L477.6 1225.4 L479.6 1223.3 L481.6 1221.3 L483.6 1219.2 L485.6 1217.2 L487.6 1215.1 L489.6 1213.0 L491.6 1210.9 L493.6 1208.9 L495.6 1206.8 L497.6 1204.7 L499.6 1202.6 L501.6 1200.5 L503.6 1198.3 L505.6 1196.2 L507.6 1194.1 L509.6 1191.9 L511.7 1189.8 L513.7 1187.6 L515.7 1185.5 L517.7 1183.3 L519.7 1181.1 L521.7 1179.0 L523.7 1176.8 L525.7 1174.6 L527.7 1172.4 L529.7 1170.2 L531.7 1167.9 L533.7 1165.7 L535.7 1163.5 L537.7 1161.2 L539.7 1159.0 L541.7 1156.7 L543.7 1154.4 L545.7 1152.2 L547.7 1149.9 L549.7 1147.6 L551.7 1145.3 L553.7 1143.0 L555.7 1140.7 L557.7 1138.3 L559.7 1136.0 L561.7 1133.7 L563.7 1131.3 L565.7 1129.0 L567.7 1126.6 L569.7 1124.2 L571.7 1121.9 L573.7 1119.5 L575.7 1117.1 L577.7 1114.7 L579.7 1112.3 L581.7 1109.9 L583.7 1107.4 L585.7 1105.0 L587.7 1102.6 L589.7 1100.1 L591.7 1097.7 L593.7 1095.2 L595.7 1092.8 L597.7 1090.3 L599.7 1087.8 L601.7 1085.3 L603.7 1082.9 L605.7 1080.4 L607.7 1077.9 L609.7 1075.4 L611.7 1072.9 L613.7 1070.4 L615.7 1067.8 L617.7 1065.3 L619.7 1062.8 L621.7 1060.3 L623.7 1057.7 L625.8 1055.2 L627.8 1052.7 L629.8 1050.1 L631.8 1047.6 L633.8 1045.1 L635.8 1042.5 L637.8 1040.0 L639.8 1037.4 L641.8 1034.9 L643.8 1032.3 L645.8 1029.8 L647.8 1027.2 L649.8 1024.7 L651.8 1022.1 L653.8 1019.6 L655.8 1017.0 L657.8 1014.5 L659.8 1011.9 L661.8 1009.4 L663.8 1006.9 L665.8 1004.3 L667.8 1001.8 L669.8 999.3 L671.8 996.7 L673.8 994.2 L675.8 991.7 L677.8 989.2 L679.8 986.7 L681.8 984.2 L683.8 981.7 L685.8 979.2 L687.8 976.7 L689.8 974.3 L691.8 971.8 L693.8 969.3 L695.8 966.9 L697.8 964.5 L699.8 962.0 L701.8 959.6 L703.8 957.2 L705.8 954.8 L707.8 952.4 L709.8 950.0 L711.8 947.7 L713.8 945.3 L715.8 943.0 L717.8 940.6 L719.8 938.3 L721.8 936.0 L723.8 933.7 L725.8 931.4 L727.8 929.2 L729.8 926.9 L731.8 924.7 L733.8 922.5 L735.8 920.3 L737.8 918.1 L739.9 915.9 L741.9 913.7 L743.9 911.6 L745.9 909.4 L747.9 907.3 L749.9 905.2 L751.9 903.1 L753.9 901.1 L755.9 899.0 L757.9 897.0 L759.9 895.0 L761.9 893.0 L763.9 891.0 L765.9 889.0 L767.9 887.1 L769.9 885.1 L771.9 883.2 L773.9 881.3 L775.9 879.5 L777.9 877.6 L779.9 875.8 L781.9 874.0 L783.9 872.2 L785.9 870.4 L787.9 868.6 L789.9 866.9 L791.9 865.2 L793.9 863.5 L795.9 861.8 L797.9 860.1 L799.9 858.5 L801.9 856.8 L803.9 855.2 L805.9 853.7 L807.9 852.1 L809.9 850.6 L811.9 849.0 L813.9 847.5 L815.9 846.1 L817.9 844.6 L819.9 843.2 L821.9 841.8 L823.9 840.4 L825.9 839.0 L827.9 837.6 L829.9 836.3 L831.9 835.0 L833.9 833.7 L835.9 832.5 L837.9 831.2 L839.9 830.0 L841.9 828.8 L843.9 827.6 L845.9 826.5 L847.9 825.4 L849.9 824.3 L851.9 823.2 L853.9 822.1 L856.0 821.1 L858.0 820.1 L860.0 819.1 L862.0 818.2 L864.0 817.3 L866.0 816.4 L868.0 815.5 L870.0 814.7 L872.0 813.9 L874.0 813.1 L876.0 812.3 L878.0 811.6 L880.0 810.9 L882.0 810.2 L884.0 809.5 L886.0 808.9 L888.0 808.3 L890.0 807.7 L892.0 807.2 L894.0 806.6 L896.0 806.1 L898.0 805.7 L900.0 805.2 L902.0 804.8 L904.0 804.5 L906.0 804.1 L908.0 803.8 L910.0 803.5 L912.0 803.2 L914.0 802.9 L916.0 802.7 L918.0 802.5 L920.0 802.3 L922.0 802.2 L924.0 802.1 L926.0 802.0 L928.0 801.9 L930.0 801.9 L932.0 801.9 L934.0 801.9 L936.0 801.9 L938.0 802.0 L940.0 802.0 L942.0 802.1 L944.0 802.3 L946.0 802.4 L948.0 802.6 L950.0 802.8 L952.0 803.0 L954.0 803.2 L956.0 803.5 L958.0 803.8 L960.0 804.1 L962.0 804.4 L964.0 804.8 L966.0 805.2 L968.0 805.5 L970.1 806.0 L972.1 806.4 L974.1 806.9 L976.1 807.3 L978.1 807.8 L980.1 808.3 L982.1 808.9 L984.1 809.4 L986.1 810.0 L988.1 810.6 L990.1 811.2 L992.1 811.9 L994.1 812.5 L996.1 813.2 L998.1 813.9 L1000.1 814.6 L1002.1 815.4 L1004.1 816.1 L1006.1 816.9 L1008.1 817.7 L1010.1 818.5 L1012.1 819.4 L1014.1 820.2 L1016.1 821.1 L1018.1 822.0 L1020.1 822.9 L1022.1 823.8 L1024.1 824.8 L1026.1 825.7 L1028.1 826.7 L1030.1 827.7 L1032.1 828.8 L1034.1 829.8 L1036.1 830.9 L1038.1 832.0 L1040.1 833.1 L1042.1 834.2 L1044.1 835.4 L1046.1 836.5 L1048.1 837.7 L1050.1 838.9 L1052.1 840.1 L1054.1 841.4 L1056.1 842.7 L1058.1 843.9 L1060.1 845.3 L1062.1 846.6 L1064.1 847.9 L1066.1 849.3 L1068.1 850.7 L1070.1 852.1 L1072.1 853.5 L1074.1 855.0 L1076.1 856.5 L1078.1 858.0 L1080.1 859.5 L1082.1 861.0 L1084.1 862.6 L1086.2 864.2 L1088.2 865.8 L1090.2 867.4 L1092.2 869.1 L1094.2 870.8 L1096.2 872.5 L1098.2 874.2 L1100.2 876.0 L1102.2 877.8 L1104.2 879.6 L1106.2 881.4 L1108.2 883.2 L1110.2 885.1 L1112.2 887.0 L1114.2 888.9 L1116.2 890.9 L1118.2 892.9 L1120.2 894.9 L1122.2 896.9 L1124.2 898.9 L1126.2 901.0 L1128.2 903.1 L1130.2 905.2 L1132.2 907.4 L1134.2 909.5 L1136.2 911.7 L1138.2 913.9 L1140.2 916.1 L1142.2 918.4 L1144.2 920.6 L1146.2 922.9 L1148.2 925.2 L1150.2 927.5 L1152.2 929.8 L1154.2 932.2 L1156.2 934.5 L1158.2 936.9 L1160.2 939.3 L1162.2 941.7 L1164.2 944.1 L1166.2 946.5 L1168.2 948.9 L1170.2 951.3 L1172.2 953.7 L1174.2 956.1 L1176.2 958.5 L1178.2 961.0 L1180.2 963.4 L1182.2 965.8 L1184.2 968.2 L1186.2 970.6 L1188.2 973.1 L1190.2 975.5 L1192.2 977.9 L1194.2 980.3 L1196.2 982.7 L1198.2 985.1 L1200.3 987.5 L1202.3 989.9 L1204.3 992.3 L1206.3 994.7 L1208.3 997.1 L1210.3 999.4 L1212.3 1001.8 L1214.3 1004.1 L1216.3 1006.5 L1218.3 1008.8 L1220.3 1011.2 L1222.3 1013.5 L1224.3 1015.8 L1226.3 1018.1 L1228.3 1020.4 L1230.3 1022.8 L1232.3 1025.0 L1234.3 1027.3 L1236.3 1029.6 L1238.3 1031.9 L1240.3 1034.2 L1242.3 1036.4 L1244.3 1038.7 L1246.3 1041.0 L1248.3 1043.2 L1250.3 1045.5 L1252.3 1047.7 L1254.3 1050.0 L1256.3 1052.2 L1258.3 1054.4 L1260.3 1056.7 L1262.3 1058.9 L1264.3 1061.2 L1266.3 1063.4 L1268.3 1065.6 L1270.3 1067.9 L1272.3 1070.1 L1274.3 1072.4 L1276.3 1074.6 L1278.3 1076.8 L1280.3 1079.1 L1282.3 1081.3 L1284.3 1083.6 L1286.3 1085.8 L1288.3 1088.1 L1290.3 1090.3 L1292.3 1092.6 L1294.3 1094.8 L1296.3 1097.1 L1298.3 1099.4 L1300.3 1101.6 L1302.3 1103.9 L1304.3 1106.2 L1306.3 1108.4 L1308.3 1110.7 L1310.3 1113.0 L1312.3 1115.3 L1314.4 1117.5 L1316.4 1119.8 L1318.4 1122.1 L1320.4 1124.4 L1322.4 1126.7 L1324.4 1129.0 L1326.4 1131.3 L1328.4 1133.6 L1330.4 1135.9 L1332.4 1138.3 L1334.4 1140.6 L1336.4 1142.9 L1338.4 1145.2 L1340.4 1147.5 L1342.4 1149.9 L1344.4 1152.2 L1346.4 1154.5 L1348.4 1156.8 L1350.4 1159.2 L1352.4 1161.5 L1354.4 1163.8 L1356.4 1166.2 L1358.4 1168.5 L1360.4 1170.8 L1362.4 1173.2 L1364.4 1175.5 L1366.4 1177.8 L1368.4 1180.2 L1370.4 1182.5 L1372.4 1184.8 L1374.4 1187.2 L1376.4 1189.5 L1378.4 1191.8 L1380.4 1194.1 L1382.4 1196.4 L1384.4 1198.8 L1386.4 1201.1 L1388.4 1203.4 L1390.4 1205.7 L1392.4 1208.0 L1394.4 1210.2 L1396.4 1212.5 L1398.4 1214.8 L1400.4 1217.1 L1402.4 1219.3 L1404.4 1221.6 L1406.4 1223.8 L1408.4 1226.1 L1410.4 1228.3 L1412.4 1230.5 L1414.4 1232.7 L1416.4 1234.9 L1418.4 1237.0 L1420.4 1239.2 L1422.4 1241.3 L1424.4 1243.5 L1426.4 1245.6 L1428.4 1247.7 L1430.5 1249.7 L1432.5 1251.8 L1434.5 1253.8 L1436.5 1255.8 L1438.5 1257.8 L1440.5 1259.7 L1442.5 1261.7 L1444.5 1263.5 L1446.5 1265.4 L1448.5 1267.2 L1450.5 1269.0 L1452.5 1270.8 L1454.5 1272.5 L1456.5 1274.2 L1458.5 1275.8 L1460.5 1277.4 L1462.5 1278.9 L1464.5 1280.4 L1466.5 1281.9 L1468.5 1283.3 L1470.5 1284.6 L1472.5 1285.9 L1474.5 1287.2 L1476.5 1288.3 L1478.5 1289.4 L1480.5 1290.5 L1482.5 1291.5 L1484.5 1292.4 L1486.5 1293.2" fill="none" stroke="#dc143c" stroke-width="6.4" stroke-dasharray="44.0 10.02" stroke-dashoffset="53.64"/>
</g>
<g id="legend" fill="#000">
<g fill="none" stroke-width="6.4">
<path d="M1246.7 186 H1359.1" stroke="#008000" stroke-dasharray="46.4 8.8 45.2 8.7 3.3 100"/>
<path d="M1246.7 260 H1359.1" stroke="#008000"/>
<path d="M1246.7 334 H1359.1" stroke="#dc143c" stroke-dasharray="46.4 8.8 45.2 8.7 3.3 100"/>
</g>
<text id="lg0" x="1385.0" y="133.0" font-size="61.3px">Energy loss</text>
<text id="lg1" x="1385.0" y="207.0" font-size="61.3px">BGM</text>
<text id="lg2" x="1385.0" y="281.0" font-size="61.3px">BGM; response</text>
<text id="lg3" x="1383.6" y="355.0" font-size="61.3px">SC-CCC Bailey 15</text>
</g>
<g id="labels">
<text id="yl120" transform="translate(180.43 83.10) scale(0.9689 1)" font-size="76.61px" stroke="#000" stroke-width="0.70">120</text>
<text id="yl100" transform="translate(180.43 341.27) scale(0.9689 1)" font-size="76.61px" stroke="#000" stroke-width="0.70">100</text>
<text id="yl80" transform="translate(217.11 599.44) scale(0.9749 1)" font-size="76.61px" stroke="#000" stroke-width="0.70">80</text>
<text id="yl60" transform="translate(216.72 857.60) scale(0.9800 1)" font-size="76.61px" stroke="#000" stroke-width="0.70">60</text>
<text id="yl40" transform="translate(217.50 1115.77) scale(0.9695 1)" font-size="76.61px" stroke="#000" stroke-width="0.70">40</text>
<text id="yl20" transform="translate(217.38 1373.94) scale(0.9711 1)" font-size="76.61px" stroke="#000" stroke-width="0.70">20</text>
<text id="yl0" transform="translate(254.29 1632.10) scale(0.9793 1)" font-size="76.61px" stroke="#000" stroke-width="0.70">0</text>
<text id="xl100" transform="translate(683.33 1702.01) scale(0.9736 1)" font-size="76.17px" stroke="#000" stroke-width="0.70">100</text>
<text id="xl1000" transform="translate(1238.65 1702.01) scale(0.9717 1)" font-size="76.17px" stroke="#000" stroke-width="0.70">1000</text>
<text id="xl10000" transform="translate(1794.48 1702.01) scale(0.9661 1)" font-size="76.17px" stroke="#000" stroke-width="0.70">10000</text>
<g id="xtitle"><text transform="translate(966.15 1816.65) scale(1.1297 1)" font-size="95.30px" stroke="#000" stroke-width="0.70">E </text><text transform="translate(1057.05 1824.88) scale(0.5368 1)" font-size="110.43px" stroke="#000" stroke-width="0.70">[</text><text transform="translate(1076.46 1816.65) scale(1.0324 1)" font-size="91.23px" stroke="#000" stroke-width="0.70">k</text><text transform="translate(1120.28 1816.81) scale(1.1547 1)" font-size="85.87px" stroke="#000" stroke-width="0.70">e</text><text transform="translate(1163.19 1817.29) scale(0.9842 1)" font-size="96.28px" stroke="#000" stroke-width="0.70">V</text><text transform="translate(1232.08 1824.88) scale(0.5450 1)" font-size="110.43px" stroke="#000" stroke-width="0.70">]</text></g>
<g id="ytitle"><text transform="rotate(-90) translate(-1094.15 112.67) scale(0.9683 1)" font-size="100.32px" stroke="#000" stroke-width="0.70">S</text><text transform="rotate(-90) translate(-1042.34 131.15) scale(1.1271 1)" font-size="61.13px" stroke="#000" stroke-width="0.70">e</text><text transform="rotate(-90) translate(-1007.19 113.06) scale(0.8138 1)" font-size="101.90px" stroke="#000" stroke-width="0.70">(</text><text transform="rotate(-90) translate(-976.64 111.65) scale(1.1258 1)" font-size="95.30px" stroke="#000" stroke-width="0.70">E</text><text transform="rotate(-90) translate(-911.32 113.06) scale(0.8138 1)" font-size="101.90px" stroke="#000" stroke-width="0.70">) </text><text transform="rotate(-90) translate(-850.88 119.81) scale(0.5350 1)" font-size="111.64px" stroke="#000" stroke-width="0.70">[</text><text transform="rotate(-90) translate(-829.43 111.65) scale(0.8421 1)" font-size="106.61px" stroke="#000" stroke-width="0.70">Å</text><text transform="rotate(-90) translate(-761.45 59.75) scale(0.9660 1)" font-size="65.85px" stroke="#000" stroke-width="0.70">2 </text><text transform="rotate(-90) translate(-709.07 111.89) scale(1.0788 1)" font-size="88.16px" stroke="#000" stroke-width="0.70">e</text><text transform="rotate(-90) translate(-666.70 112.17) scale(0.9574 1)" font-size="97.62px" stroke="#000" stroke-width="0.70">V</text><text transform="rotate(-90) translate(-598.78 119.81) scale(0.5411 1)" font-size="111.64px" stroke="#000" stroke-width="0.70">]</text></g>
</g>
</svg>
</body></html>
